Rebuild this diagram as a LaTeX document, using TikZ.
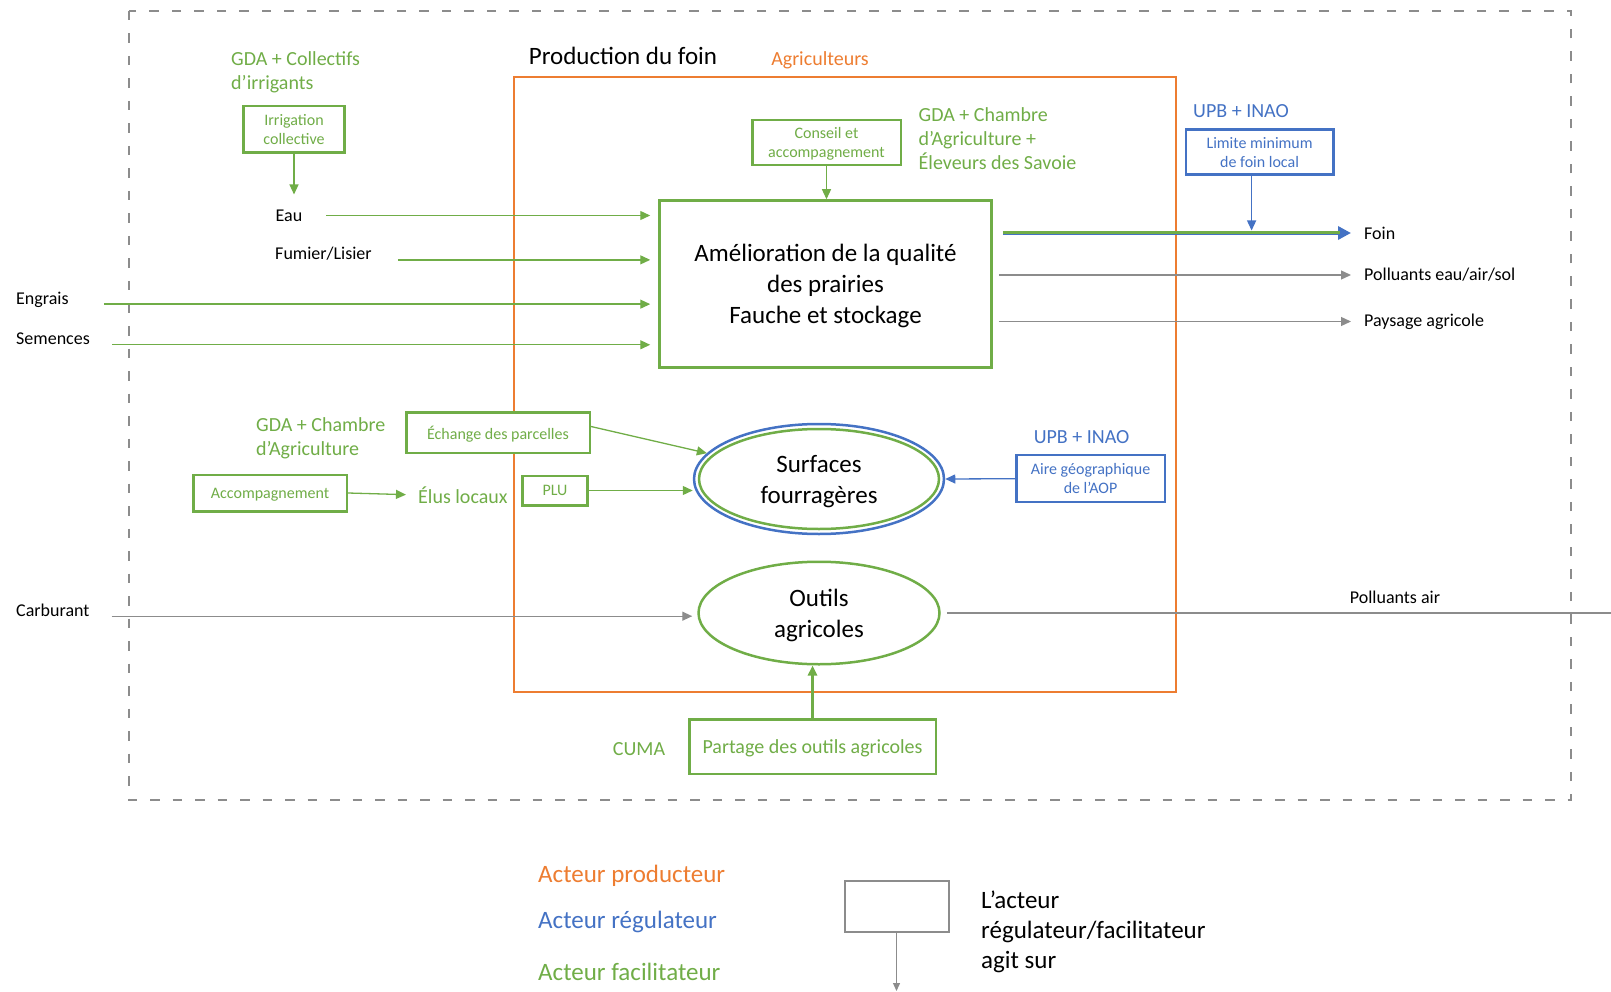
\documentclass[tikz,border=0pt]{standalone}
\usepackage{fontspec}
\setmainfont{Carlito}
\usetikzlibrary{arrows.meta,shapes.geometric}
\definecolor{prodorange}{HTML}{ED7D31}
\definecolor{regblue}{HTML}{4472C4}
\definecolor{facgreen}{HTML}{70AD47}
\definecolor{flowgray}{HTML}{8C8C8C}
\newcommand{\fsz}[2]{\fontsize{#1}{#2}\selectfont}

\begin{document}
\begin{tikzpicture}[x=1pt, y=-1pt, >={Triangle[length=10pt,width=9pt]},
  flow/.style={inner sep=0pt, font=\fsz{18}{22}},
  big/.style={inner sep=0pt, align=center, text depth=0pt, font=\fsz{25}{30}},
  faclabel/.style={inner sep=0pt, align=left, text=facgreen, font=\fsz{20}{24}},
  reglabel/.style={inner sep=0pt, align=left, text=regblue, font=\fsz{20}{24}},
  facbox/.style={draw=facgreen, fill=white, line width=2.5pt, text=facgreen, align=center, inner sep=0pt, text depth=-2pt, font=\fsz{16}{19}},
  regbox/.style={draw=regblue, fill=white, line width=2.5pt, text=regblue, align=center, inner sep=0pt, text depth=-2pt, font=\fsz{16}{19}},
  gin/.style={draw=facgreen, line width=1.3pt, ->},
  grayin/.style={draw=flowgray, line width=1.3pt, ->},
  bin/.style={draw=regblue, line width=1.3pt, ->}]
  \useasboundingbox (0,0) rectangle (1611,992);
  \draw[flowgray, line width=2.5pt, dash pattern=on 9.5pt off 13pt] (129,11) rectangle (1571,800);
  \draw[prodorange, line width=2.8pt] (514,77) rectangle (1176,692);
  \node[big] (title) at (623,56) {Production du foin};
  \node[inner sep=0pt, text=prodorange, font=\fsz{20}{24}] (agri) at (820,60) {Agriculteurs};

  \node[facbox, minimum width=332pt, minimum height=167pt, text=black, text depth=0pt, font=\fsz{25}{31}] (main) at (825.5,284) {Amélioration de la qualité\\des prairies\\Fauche et stockage};
  \node[ellipse, draw=regblue, line width=2.5pt, minimum width=250pt, minimum height=110pt, big, font=\fsz{25}{31}] (surf) at (819,479) {Surfaces\\fourragères};
  \draw[facgreen, line width=2.5pt] (surf.center) ellipse [x radius=120, y radius=50];
  \node[ellipse, draw=facgreen, line width=2.5pt, minimum width=241pt, minimum height=102.5pt, big, font=\fsz{25}{31}] (outils) at (819,613) {Outils\\agricoles};

  \node[faclabel, anchor=west] (gdairr) at (231,72) {GDA + Collectifs\\d’irrigants};
  \node[facbox, minimum width=101pt, minimum height=46.5pt] (irrig) at (294,129.5) {Irrigation\\collective};
  \node[flow] (eau) at (289,215.5) {Eau};
  \node[flow] (fumier) at (323.5,254) {Fumier/Lisier};
  \node[flow, anchor=west] (engrais) at (16,299.5) {Engrais};
  \node[flow, anchor=west] (semences) at (16,339) {Semences};
  \node[flow, anchor=west] (carb) at (16,610) {Carburant};
  \draw[gin, shorten >=15pt] (irrig.south) -- (irrig.south |- eau.north);
  \draw[gin, shorten <=24pt, shorten >=8pt] (eau.east) -- (eau.east -| main.west);
  \draw[gin, shorten <=26pt, shorten >=8pt] (fumier.base east) -- (fumier.base east -| main.west);
  \draw[gin, shorten <=35pt, shorten >=8pt] (engrais.base east) -- (engrais.base east -| main.west);
  \draw[gin, shorten <=22pt, shorten >=8pt] (semences.base east) -- (semences.base east -| main.west);
  \draw[grayin, shorten <=22pt, shorten >=5pt] (carb.base east) -- (carb.base east -| outils.west);

  \node[facbox, minimum width=148.5pt, minimum height=45pt] (conseil) at (826.5,142.7) {Conseil et\\accompagnement};
  \node[faclabel, anchor=west] (gdach) at (918.5,139) {GDA + Chambre\\d’Agriculture +\\Éleveurs des Savoie};
  \draw[gin] (conseil.south) -- (conseil.south |- main.north);

  \node[reglabel, anchor=west] (upbfoin) at (1193,111) {UPB + INAO};
  \node[regbox, minimum width=147.5pt, minimum height=45pt] (limite) at (1259.6,152) {Limite minimum\\de foin local};
  \node[flow, anchor=west] (foin) at (1364,233) {Foin};
  \node[flow, anchor=west] (polleau) at (1364,275) {Polluants eau/air/sol};
  \node[flow, anchor=west] (paysage) at (1364,321.5) {Paysage agricole};
  \draw[regblue, line width=4pt, shorten <=10pt, shorten >=13pt, -{Triangle[length=13pt,width=13pt]}] (main.east |- foin.west) -- (foin.west);
  \draw[facgreen, line width=3pt, yshift=1.5pt, shorten <=10pt, shorten >=24pt] (main.east |- foin.west) -- (foin.west);
  \draw[grayin, shorten <=6pt, shorten >=13pt] (main.east |- polleau.west) -- (polleau.west);
  \draw[grayin, shorten <=6pt, shorten >=13pt] (main.east |- paysage.west) -- (paysage.west);
  \coordinate (limtip) at ([xshift=-8pt]limite.south);
  \draw[bin, shorten >=2.5pt] (limtip) -- (limtip |- foin.west);

  \node[faclabel, anchor=west] (gdaparc) at (256,438) {GDA + Chambre\\d’Agriculture};
  \node[facbox, minimum width=183.5pt, minimum height=40.5pt] (echange) at (498,432.5) {Échange des parcelles};
  \node[facbox, minimum width=153.5pt, minimum height=36.5pt] (accomp) at (270,493) {Accompagnement};
  \node[faclabel, anchor=west] (elus) at (418,495) {Élus locaux};
  \node[facbox, minimum width=65pt, minimum height=29.5pt] (plu) at (555,490.5) {PLU};
  \draw[gin, shorten >=12pt] (accomp.east) -- (elus.west);
  \draw[gin] ([yshift=6pt]echange.east) -- (surf);
  \draw[gin] (plu.east) -- (plu.east -| surf.west);

  \node[reglabel, anchor=west] (upbaire) at (1033.6,437.5) {UPB + INAO};
  \node[regbox, minimum width=148.5pt, minimum height=47pt] (aire) at (1090.5,478.7) {Aire géographique\\de l’AOP};
  \draw[bin] (aire.west) -- (surf.east);

  \node[flow] (pollair) at (1395,597.5) {Polluants air};
  \coordinate (airout) at (1611,613);
  \draw[flowgray, line width=1.3pt, shorten <=6pt] (outils.east) -- (airout);

  \node[facbox, minimum width=246.5pt, minimum height=54.5pt, font=\fsz{20}{24}] (partage) at (812.5,746.5) {Partage des outils agricoles};
  \node[faclabel] (cuma) at (639,749.5) {CUMA};
  \draw[gin, line width=2.5pt] (partage.north) -- (partage.north |- outils.south);

  \node[inner sep=0pt, anchor=west, text=prodorange, font=\fsz{25}{30}] (legprod) at (538,876) {Acteur producteur};
  \node[inner sep=0pt, anchor=west, text=regblue, font=\fsz{25}{30}] (legreg) at (538,922) {Acteur régulateur};
  \node[inner sep=0pt, anchor=west, text=facgreen, font=\fsz{25}{30}] (legfac) at (538,971.5) {Acteur facilitateur};
  \node[draw=flowgray, line width=2pt, minimum width=104pt, minimum height=51pt] (legbox) at (896.5,906) {};
  \coordinate (legend end) at (896.5,991);
  \draw[grayin, >={Triangle[length=8pt,width=7pt]}] (legbox.south) -- (legend end);
  \node[big, align=left, anchor=west, font=\fsz{25}{30}] (legtext) at (981,929.5) {L’acteur\\régulateur/facilitateur\\agit sur};
\end{tikzpicture}
\end{document}
